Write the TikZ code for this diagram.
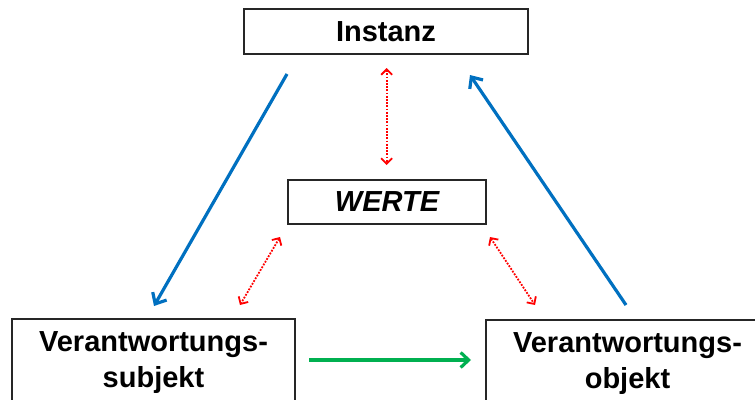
\documentclass[tikz,border=0pt]{standalone}
\usepackage{fontspec}
\setmainfont{Liberation Sans}
\usetikzlibrary{arrows.meta}
\begin{document}
\begin{tikzpicture}[x=1pt,y=-1pt,
    kasten/.style={draw=black!85,line width=1.6pt,inner sep=0pt,font=\fontsize{29}{34}\selectfont\bfseries},
    unten/.style={draw=black!85,line width=1.6pt,anchor=north,minimum width=283pt,inner ysep=13pt,
      align=center,font=\fontsize{29}{36}\selectfont\bfseries},
    blau/.style={draw={rgb,255:red,0;green,112;blue,192},line width=3.2pt,-{Straight Barb[length=9pt,width=16pt]}},
    gruen/.style={draw={rgb,255:red,0;green,176;blue,80},line width=3.2pt,-{Straight Barb[length=8pt,width=15pt]}},
    rot/.style={draw=red,line width=1.8pt,dash pattern=on 1.8pt off 1.4pt,{Straight Barb[length=5.5pt,width=11pt]}-{Straight Barb[length=5.5pt,width=11pt]}}]
  \clip (0,0) rectangle (755,399);
  \node[kasten,minimum width=284pt,minimum height=45pt] (instanz) at (386,31.5) {Instanz};
  \node[kasten,minimum width=198pt,minimum height=44pt] (werte) at (387,202) {\itshape WERTE};
  \node[unten] (subjekt) at (153.5,318) {Verantwortungs-\\subjekt};
  \node[unten] (objekt) at (627.5,319) {Verantwortungs-\\objekt};
  % blaue Pfeile
  \coordinate (b1) at (287,74);
  \coordinate (b2) at (154,306);
  \coordinate (b3) at (626,305);
  \coordinate (b4) at (470,75);
  \draw[blau] (b1) -- (b2);
  \draw[blau] (b3) -- (b4);
  % gruener Pfeil
  \coordinate (g1) at (309,360);
  \coordinate (g2) at (471,360);
  \draw[gruen] (g1) -- (g2);
  % rote Beziehungen
  \coordinate (r1) at (386.7,68);
  \coordinate (r2) at (386.7,165);
  \coordinate (r3) at (280,237);
  \coordinate (r4) at (240,305);
  \coordinate (r5) at (490,237);
  \coordinate (r6) at (535,305);
  \draw[rot] (r1) -- (r2);
  \draw[rot] (r3) -- (r4);
  \draw[rot] (r5) -- (r6);
\end{tikzpicture}
\end{document}
